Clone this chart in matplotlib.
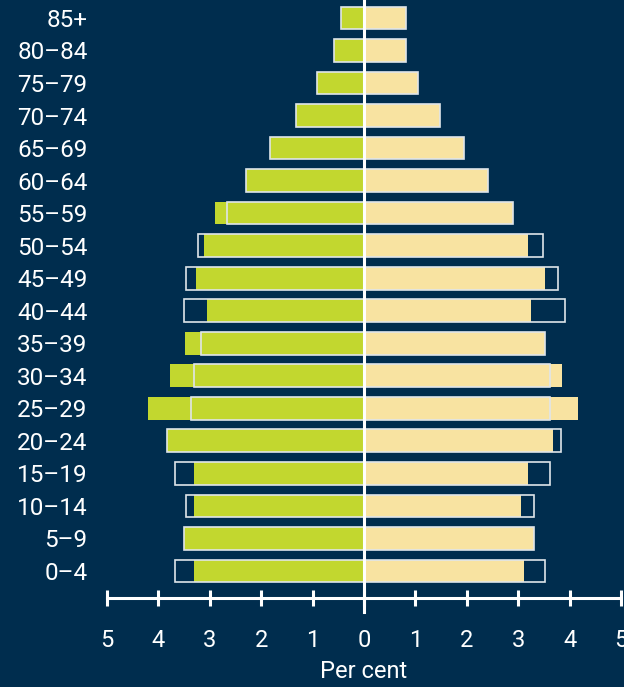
import matplotlib.pyplot as plt
import matplotlib.transforms as mtransforms
import numpy as np

# age groups, bottom to top
ages = ['0–4', '5–9', '10–14', '15–19', '20–24', '25–29', '30–34', '35–39', '40–44',
        '45–49', '50–54', '55–59', '60–64', '65–69', '70–74', '75–79', '80–84', '85+']

# left side (green): filled bars and outlined comparison bars, per cent
left_fill = [3.30, 3.51, 3.30, 3.30, 3.83, 4.21, 3.78, 3.49, 3.06,
             3.26, 3.12, 2.89, 2.30, 1.83, 1.33, 0.91, 0.58, 0.45]
left_outline = [3.67, 3.51, 3.47, 3.67, 3.83, 3.36, 3.31, 3.17, 3.51,
                3.46, 3.22, 2.67, 2.30, 1.83, 1.33, 0.91, 0.58, 0.45]

# right side (yellow)
right_fill = [3.12, 3.30, 3.06, 3.20, 3.67, 4.16, 3.85, 3.52, 3.24,
              3.53, 3.20, 2.90, 2.42, 1.95, 1.47, 1.05, 0.82, 0.82]
right_outline = [3.52, 3.30, 3.30, 3.61, 3.84, 3.61, 3.61, 3.52, 3.92,
                 3.78, 3.48, 2.90, 2.42, 1.95, 1.47, 1.05, 0.82, 0.82]

xticks = [-5, -4, -3, -2, -1, 0, 1, 2, 3, 4, 5]
xticklabels = ['5', '4', '3', '2', '1', '0', '1', '2', '3', '4', '5']

bg = '#002d4e'
green = '#c2d72f'
yellow = '#f8e3a1'
edge = '#dfe5ea'

plt.rcParams['font.family'] = ['Roboto', 'DejaVu Sans']

W, H = 624, 687
fig = plt.figure(figsize=(W / 100, H / 100), dpi=100, facecolor=bg)
ax = fig.add_axes([107 / W, (H - 598) / H, 514 / W, 598 / H], facecolor=bg)

y = np.arange(len(ages))
bh = 0.70

ax.barh(y, -np.array(left_fill), height=bh, color=green, linewidth=0)
ax.barh(y, right_fill, height=bh, color=yellow, linewidth=0)
ax.barh(y, -np.array(left_outline), height=bh, facecolor='none', edgecolor=edge, linewidth=1.2)
ax.barh(y, right_outline, height=bh, facecolor='none', edgecolor=edge, linewidth=1.2)

ax.set_xlim(-5, 5)
ax.set_ylim(-0.83, 17.55)

# centre line, running a bit below the axis
trans = mtransforms.blended_transform_factory(ax.transData, ax.transAxes)
ax.plot([0, 0], [-0.024, 1], color='white', linewidth=2.2, transform=trans, clip_on=False, zorder=5)

for s in ['top', 'right', 'left']:
    ax.spines[s].set_visible(False)
ax.spines['bottom'].set_color('white')
ax.spines['bottom'].set_linewidth(2.2)

ax.set_xticks(xticks)
ax.set_xticklabels(xticklabels)
ax.tick_params(axis='x', direction='inout', length=11.5, width=2.2, color='white',
               labelcolor='white', labelsize=17, pad=16.5)
ax.set_yticks(y)
ax.set_yticklabels(ages)
ax.tick_params(axis='y', length=0, labelcolor='white', labelsize=17.5, pad=14)
ax.set_xlabel('Per cent', color='white', fontsize=17, labelpad=6)

fig.savefig('out.png', dpi=100, facecolor=bg)
